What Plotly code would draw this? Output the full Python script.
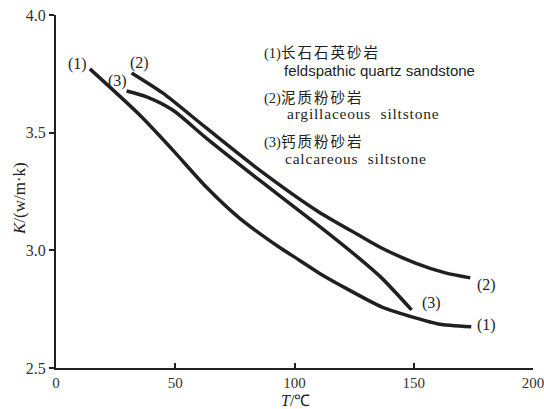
import plotly.graph_objects as go

# Thermal conductivity K (W/m·K) versus temperature T (°C) for three rock types
t_feldspathic = [14.2, 35.1, 48.9, 63.0, 76.8, 93.5, 101.9, 110.2, 122.8, 136.5, 150.7, 160.3, 174.1]
k_feldspathic = [3.771, 3.575, 3.427, 3.269, 3.138, 3.014, 2.959, 2.904, 2.832, 2.760, 2.713, 2.687, 2.675]

t_argillaceous = [31.7, 44.7, 63.0, 85.2, 110.2, 126.9, 136.5, 150.7, 163.3, 173.7]
k_argillaceous = [3.754, 3.669, 3.520, 3.342, 3.163, 3.065, 3.010, 2.946, 2.904, 2.883]

t_calcareous = [29.6, 38.0, 48.9, 63.0, 85.2, 110.2, 126.9, 136.5, 149.1]
k_calcareous = [3.677, 3.652, 3.596, 3.477, 3.299, 3.104, 2.968, 2.883, 2.747]

x_ticks = [0, 50, 100, 150, 200]
y_ticks = [2.5, 3.0, 3.5, 4.0]
y_tick_text = ["2.5", "3.0", "3.5", "4.0"]

legend_num = ["(1)", "(2)", "(3)"]
legend_cn = ["长石石英砂岩", "泥质粉砂岩", "钙质粉砂岩"]
legend_en = ["feldspathic quartz sandstone", "argillaceous  siltstone", "calcareous  siltstone"]

INK = "#231f20"
SERIF = "Liberation Serif, Times New Roman, serif"
CJK = "Noto Sans CJK SC, sans-serif"

W, H = 544, 409
L, R, T, B = 56, 11, 15, 41


def px_to_paper(x, y):
    """Pixel position (from the top-left of the page) to paper fractions."""
    return (x - L) / (W - L - R), (H - y - B) / (H - T - B)


fig = go.Figure()
for xs, ys in [(t_feldspathic, k_feldspathic),
               (t_argillaceous, k_argillaceous),
               (t_calcareous, k_calcareous)]:
    fig.add_trace(go.Scatter(x=xs, y=ys, mode="lines",
                             line=dict(color=INK, width=3.5, shape="spline", smoothing=0.7),
                             showlegend=False, hoverinfo="skip"))

# curve-end markers "(n)"; shifts are in pixels (right, up)
ends = [
    (t_feldspathic[0], k_feldspathic[0], "(1)", -12, 5),
    (t_argillaceous[0], k_argillaceous[0], "(2)", 8, 10),
    (t_calcareous[0], k_calcareous[0], "(3)", -9, 10),
    (t_feldspathic[-1], k_feldspathic[-1], "(1)", 15, 2),
    (t_argillaceous[-1], k_argillaceous[-1], "(2)", 16, -7),
    (t_calcareous[-1], k_calcareous[-1], "(3)", 20, 7),
]
annotations = []
for x, y, txt, dx, dy in ends:
    annotations.append(dict(x=x, y=y, xref="x", yref="y", text=txt, showarrow=False,
                            xshift=dx, yshift=dy,
                            font=dict(family=SERIF, size=16, color=INK)))

# rock-type key in the upper right
cn_y = [52, 96, 140]
en_y = [70, 114, 158]
en_x = [282, 285, 283]
en_font = [dict(family="Liberation Sans, Arial, sans-serif", size=15, color=INK),
           dict(family=SERIF, size=15.5, color=INK),
           dict(family=SERIF, size=15.5, color=INK)]
en_spacing = ["0px", "0.8px", "0.8px"]
for i in range(3):
    px, py = px_to_paper(262, cn_y[i])
    annotations.append(dict(x=px, y=py, xref="paper", yref="paper",
                            text=f"{legend_num[i]}<span style='font-family:{CJK};font-size:14.5px;"
                                 f"letter-spacing:2px'>{legend_cn[i]}</span>",
                            showarrow=False, xanchor="left", yanchor="middle",
                            font=dict(family=SERIF, size=14.5, color=INK)))
    px, py = px_to_paper(en_x[i], en_y[i])
    annotations.append(dict(x=px, y=py, xref="paper", yref="paper",
                            text=f"<span style='letter-spacing:{en_spacing[i]}'>{legend_en[i]}</span>",
                            showarrow=False, xanchor="left",
                            yanchor="middle", font=en_font[i]))

px, py = px_to_paper(19, 199)
annotations.append(dict(x=px, y=py, xref="paper", yref="paper",
                        text="<i>K</i>/(w/m·k)", textangle=-90, showarrow=False,
                        xanchor="center", yanchor="middle",
                        font=dict(family=SERIF, size=17, color=INK)))
px, py = px_to_paper(295, 400)
annotations.append(dict(x=px, y=py, xref="paper", yref="paper",
                        text="<i>T</i>/℃", showarrow=False,
                        xanchor="center", yanchor="middle",
                        font=dict(family=SERIF, size=16, color=INK)))

fig.update_layout(
    width=W, height=H,
    margin=dict(l=L, r=R, t=T, b=B, autoexpand=False),
    paper_bgcolor="white", plot_bgcolor="white",
    annotations=annotations,
    xaxis=dict(range=[0, 200], tickvals=x_ticks, ticks="inside", ticklen=5,
               tickwidth=2, tickcolor=INK, showline=True, linecolor=INK, linewidth=2,
               showgrid=False, zeroline=False, ticklabeloverflow="allow", automargin=False,
               tickfont=dict(family=SERIF, size=15, color="#333333")),
    yaxis=dict(range=[2.5, 4.0], tickvals=y_ticks, ticktext=y_tick_text, ticks="outside",
               ticklen=5, tickwidth=2, tickcolor=INK, showline=True, linecolor=INK,
               linewidth=2, showgrid=False, zeroline=False, ticklabeloverflow="allow",
               automargin=False,
               tickfont=dict(family=SERIF, size=16, color="#333333")),
)

fig.write_html("out.html")
